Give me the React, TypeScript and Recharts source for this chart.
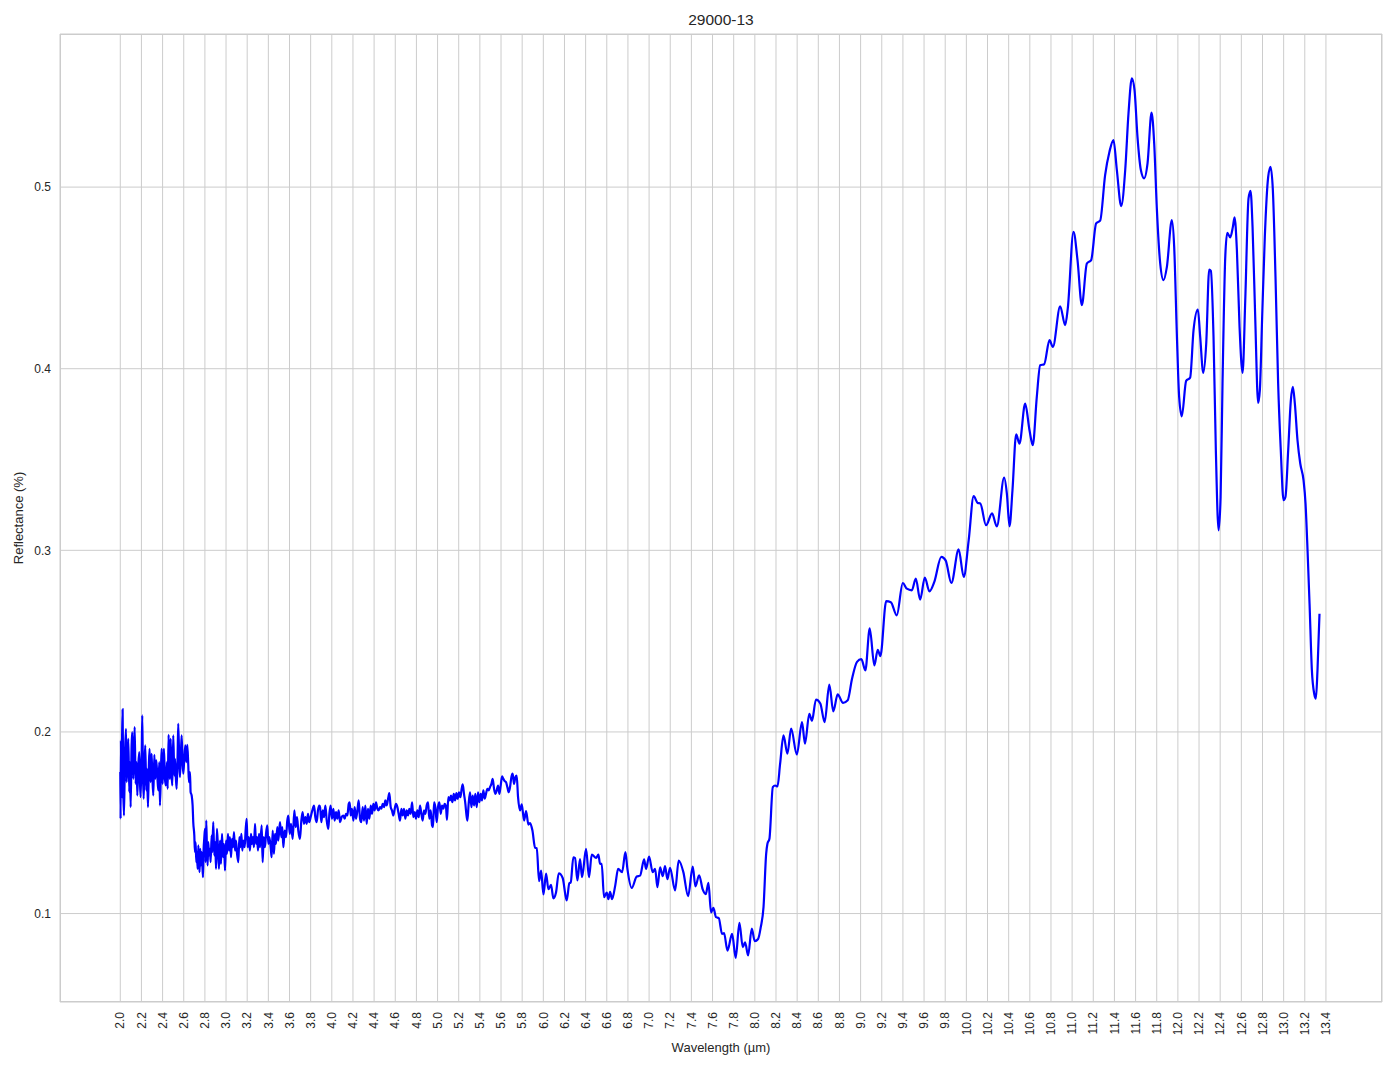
import { LineChart, Line, XAxis, YAxis, CartesianGrid } from 'recharts'

const FONT = '"Liberation Sans", Arial, sans-serif'
const TEXT = '#262626'
const GRID = '#cccccc'

// wavelength (µm), reflectance, region by region
const noisyStart: [number, number][] = [
  [2.000, 0.1779], [2.003, 0.1522], [2.006, 0.1953], [2.009, 0.1632], [2.016, 0.1926], [2.022, 0.2124],
  [2.028, 0.1687], [2.035, 0.1540], [2.044, 0.1871], [2.054, 0.2017], [2.060, 0.1724], [2.066, 0.1815],
  [2.076, 0.1962], [2.085, 0.1669], [2.091, 0.1834], [2.098, 0.1586], [2.107, 0.1926], [2.113, 0.1999],
  [2.123, 0.1742], [2.129, 0.1871], [2.136, 0.2027], [2.145, 0.1714], [2.154, 0.1834], [2.161, 0.1650],
  [2.170, 0.1815], [2.180, 0.1889], [2.186, 0.1724], [2.192, 0.1641], [2.202, 0.1852], [2.208, 0.2091],
  [2.214, 0.1779], [2.221, 0.1632], [2.230, 0.1834], [2.236, 0.1926], [2.246, 0.1678], [2.252, 0.1797],
  [2.262, 0.1586], [2.271, 0.1834], [2.277, 0.1907], [2.287, 0.1724], [2.296, 0.1880], [2.303, 0.1760],
  [2.312, 0.1650], [2.322, 0.1874], [2.331, 0.1742], [2.340, 0.1843], [2.350, 0.1760], [2.359, 0.1678],
  [2.369, 0.1834], [2.375, 0.1595], [2.385, 0.1797], [2.391, 0.1907], [2.400, 0.1714], [2.407, 0.1834],
  [2.413, 0.1907], [2.422, 0.1742], [2.432, 0.1705], [2.441, 0.1834], [2.448, 0.1687], [2.457, 0.1984],
  [2.463, 0.1779], [2.470, 0.1742], [2.476, 0.1962], [2.485, 0.1760], [2.492, 0.1705], [2.501, 0.1981],
  [2.511, 0.1760], [2.517, 0.1852], [2.526, 0.1742], [2.533, 0.1687], [2.542, 0.1871], [2.548, 0.2045],
  [2.558, 0.1834], [2.564, 0.1751], [2.574, 0.1889], [2.580, 0.1981], [2.589, 0.1834], [2.596, 0.1770],
  [2.605, 0.1852], [2.615, 0.1926], [2.624, 0.1834], [2.634, 0.1929], [2.643, 0.1815], [2.649, 0.1724],
  [2.659, 0.1779], [2.665, 0.1669], [2.675, 0.1650], [2.684, 0.1595], [2.690, 0.1503], [2.700, 0.1430],
  [2.706, 0.1338], [2.712, 0.1393], [2.719, 0.1283], [2.725, 0.1338], [2.731, 0.1246], [2.738, 0.1375],
  [2.744, 0.1283], [2.750, 0.1228], [2.756, 0.1356], [2.763, 0.1265], [2.769, 0.1338], [2.775, 0.1283],
  [2.782, 0.1200], [2.788, 0.1356], [2.794, 0.1411], [2.801, 0.1466], [2.807, 0.1283], [2.813, 0.1512],
  [2.820, 0.1338], [2.826, 0.1265], [2.832, 0.1393], [2.839, 0.1320], [2.848, 0.1356], [2.854, 0.1283],
  [2.864, 0.1430], [2.870, 0.1338], [2.879, 0.1503], [2.889, 0.1320], [2.898, 0.1393], [2.905, 0.1246],
  [2.914, 0.1466], [2.924, 0.1356], [2.933, 0.1246],
]

const lowBand: [number, number][] = [
  [2.943, 0.1402], [2.952, 0.1274], [2.962, 0.1439], [2.971, 0.1310], [2.981, 0.1384], [2.990, 0.1237],
  [3.000, 0.1402], [3.009, 0.1329], [3.018, 0.1439], [3.028, 0.1347], [3.037, 0.1421], [3.047, 0.1310],
  [3.056, 0.1411], [3.066, 0.1365], [3.075, 0.1448], [3.085, 0.1347], [3.094, 0.1402], [3.104, 0.1329],
  [3.116, 0.1283], [3.126, 0.1421], [3.135, 0.1365], [3.145, 0.1439], [3.154, 0.1347], [3.163, 0.1402],
  [3.176, 0.1365], [3.185, 0.1457], [3.195, 0.1522], [3.204, 0.1365], [3.214, 0.1421], [3.226, 0.1347],
  [3.236, 0.1439], [3.245, 0.1384], [3.255, 0.1421], [3.264, 0.1365], [3.274, 0.1494], [3.283, 0.1384],
  [3.293, 0.1421], [3.302, 0.1347], [3.312, 0.1439], [3.321, 0.1365], [3.337, 0.1485], [3.346, 0.1283],
  [3.356, 0.1421], [3.368, 0.1365], [3.378, 0.1439], [3.390, 0.1485], [3.400, 0.1384], [3.409, 0.1421],
  [3.422, 0.1365], [3.431, 0.1310], [3.441, 0.1457], [3.453, 0.1329], [3.463, 0.1439], [3.472, 0.1384],
  [3.485, 0.1476], [3.494, 0.1402], [3.510, 0.1503], [3.523, 0.1421], [3.532, 0.1476], [3.542, 0.1365],
  [3.554, 0.1457], [3.567, 0.1421], [3.579, 0.1512], [3.589, 0.1540], [3.602, 0.1439], [3.614, 0.1494],
  [3.630, 0.1411], [3.646, 0.1568], [3.658, 0.1476], [3.671, 0.1531], [3.683, 0.1457], [3.699, 0.1411],
  [3.712, 0.1512], [3.724, 0.1558], [3.737, 0.1494], [3.750, 0.1531], [3.762, 0.1494], [3.775, 0.1549],
  [3.787, 0.1503], [3.800, 0.1531], [3.816, 0.1568], [3.832, 0.1595], [3.844, 0.1531], [3.857, 0.1503],
  [3.869, 0.1568], [3.882, 0.1595],
]

const plateau: [number, number][] = [
  [3.889, 0.1586], [3.901, 0.1503], [3.914, 0.1568], [3.926, 0.1531], [3.939, 0.1595], [3.952, 0.1512],
  [3.967, 0.1466], [3.977, 0.1549], [3.989, 0.1595], [4.002, 0.1522], [4.015, 0.1577], [4.027, 0.1512],
  [4.040, 0.1558], [4.052, 0.1522], [4.065, 0.1568], [4.078, 0.1503], [4.093, 0.1531], [4.109, 0.1540],
  [4.122, 0.1522], [4.134, 0.1549], [4.147, 0.1540], [4.160, 0.1604], [4.169, 0.1613], [4.179, 0.1540],
  [4.191, 0.1577], [4.204, 0.1512], [4.216, 0.1586], [4.229, 0.1522], [4.242, 0.1568], [4.254, 0.1623],
  [4.267, 0.1522], [4.279, 0.1503], [4.292, 0.1586], [4.305, 0.1512], [4.317, 0.1595], [4.330, 0.1494],
  [4.342, 0.1577], [4.355, 0.1522], [4.368, 0.1595], [4.380, 0.1549], [4.393, 0.1604], [4.405, 0.1568],
  [4.418, 0.1613], [4.431, 0.1577], [4.443, 0.1568], [4.456, 0.1586], [4.469, 0.1577], [4.481, 0.1604],
  [4.494, 0.1586], [4.506, 0.1623], [4.519, 0.1595], [4.532, 0.1632], [4.544, 0.1663], [4.557, 0.1586],
  [4.569, 0.1568], [4.582, 0.1540], [4.595, 0.1577], [4.607, 0.1604], [4.620, 0.1586], [4.632, 0.1549],
  [4.645, 0.1512], [4.658, 0.1577], [4.670, 0.1540], [4.683, 0.1577], [4.695, 0.1522], [4.708, 0.1568],
  [4.721, 0.1540], [4.733, 0.1577], [4.746, 0.1549], [4.759, 0.1613], [4.771, 0.1531], [4.784, 0.1558],
  [4.796, 0.1522], [4.809, 0.1568], [4.822, 0.1531], [4.834, 0.1595], [4.847, 0.1549], [4.859, 0.1512],
  [4.872, 0.1568], [4.885, 0.1549], [4.897, 0.1595], [4.910, 0.1613], [4.922, 0.1522], [4.935, 0.1568],
  [4.948, 0.1485], [4.957, 0.1476], [4.967, 0.1613], [4.979, 0.1586], [4.992, 0.1503], [5.004, 0.1586],
  [5.017, 0.1613], [5.030, 0.1549], [5.042, 0.1595], [5.055, 0.1577], [5.067, 0.1604], [5.080, 0.1586],
  [5.089, 0.1516], [5.102, 0.1641], [5.115, 0.1623], [5.127, 0.1650], [5.140, 0.1613], [5.153, 0.1659],
  [5.165, 0.1623], [5.178, 0.1663], [5.190, 0.1632], [5.203, 0.1668], [5.216, 0.1641], [5.228, 0.1687],
  [5.238, 0.1711], [5.250, 0.1659], [5.263, 0.1604], [5.272, 0.1549], [5.282, 0.1512], [5.294, 0.1604],
  [5.307, 0.1668], [5.320, 0.1586], [5.332, 0.1650], [5.345, 0.1595], [5.357, 0.1659], [5.370, 0.1586],
  [5.383, 0.1668], [5.395, 0.1613], [5.408, 0.1659], [5.420, 0.1623], [5.433, 0.1678], [5.446, 0.1632],
  [5.458, 0.1659], [5.471, 0.1687], [5.483, 0.1678], [5.496, 0.1696], [5.509, 0.1714], [5.521, 0.1742],
  [5.534, 0.1687], [5.547, 0.1659], [5.559, 0.1678], [5.572, 0.1705], [5.584, 0.1659], [5.597, 0.1705],
  [5.610, 0.1755], [5.622, 0.1742], [5.635, 0.1729], [5.647, 0.1724], [5.660, 0.1696], [5.673, 0.1668],
  [5.685, 0.1696], [5.698, 0.1751], [5.710, 0.1770], [5.723, 0.1714], [5.736, 0.1751], [5.748, 0.1760],
  [5.761, 0.1641],
]

const dip: [number, number][] = [
  [5.780, 0.1568], [5.796, 0.1601], [5.818, 0.1512], [5.837, 0.1564], [5.859, 0.1490], [5.875, 0.1498],
  [5.897, 0.1457], [5.922, 0.1362], [5.938, 0.1360], [5.960, 0.1178], [5.979, 0.1236], [6.001, 0.1105],
  [6.026, 0.1220], [6.048, 0.1134], [6.073, 0.1158], [6.095, 0.1084], [6.120, 0.1116], [6.146, 0.1222],
  [6.183, 0.1196], [6.221, 0.1072], [6.246, 0.1167], [6.259, 0.1171], [6.284, 0.1310], [6.300, 0.1306],
  [6.322, 0.1182], [6.347, 0.1300], [6.366, 0.1200], [6.404, 0.1356], [6.432, 0.1200], [6.458, 0.1325],
  [6.499, 0.1307], [6.521, 0.1325], [6.536, 0.1274], [6.552, 0.1274], [6.574, 0.1090], [6.600, 0.1116],
  [6.615, 0.1079], [6.631, 0.1120], [6.650, 0.1079], [6.681, 0.1158], [6.707, 0.1246], [6.745, 0.1228],
  [6.776, 0.1338], [6.795, 0.1246], [6.836, 0.1141], [6.883, 0.1204], [6.915, 0.1209], [6.953, 0.1298],
  [6.971, 0.1246], [7.000, 0.1314], [7.034, 0.1228], [7.057, 0.1246], [7.079, 0.1145], [7.104, 0.1255],
  [7.129, 0.1206], [7.151, 0.1261], [7.173, 0.1189], [7.198, 0.1252], [7.246, 0.1127], [7.280, 0.1292],
  [7.324, 0.1228], [7.369, 0.1096], [7.413, 0.1259], [7.438, 0.1149], [7.473, 0.1211], [7.507, 0.1133],
  [7.536, 0.1107], [7.561, 0.1169], [7.586, 0.1007], [7.608, 0.1031], [7.633, 0.0980], [7.659, 0.0975],
  [7.690, 0.0888], [7.709, 0.0892], [7.741, 0.0796], [7.785, 0.0888], [7.819, 0.0756], [7.854, 0.0949],
  [7.886, 0.0815], [7.908, 0.0842], [7.936, 0.0769], [7.971, 0.0917], [7.999, 0.0848], [8.031, 0.0860],
  [8.056, 0.0925],
]

const rise: [number, number][] = [
  [8.082, 0.1035], [8.107, 0.1329], [8.119, 0.1384], [8.138, 0.1412], [8.170, 0.1696], [8.192, 0.1705],
  [8.214, 0.1700], [8.239, 0.1825], [8.271, 0.1981], [8.308, 0.1880], [8.343, 0.2018], [8.397, 0.1876],
  [8.446, 0.2054], [8.474, 0.1935], [8.515, 0.2100], [8.540, 0.2061], [8.578, 0.2178], [8.619, 0.2157],
  [8.660, 0.2054], [8.704, 0.2260], [8.742, 0.2113], [8.783, 0.2207], [8.834, 0.2160], [8.878, 0.2174],
  [8.919, 0.2293], [8.966, 0.2386], [9.007, 0.2401], [9.045, 0.2339], [9.086, 0.2570], [9.130, 0.2366],
  [9.162, 0.2452], [9.187, 0.2418], [9.242, 0.2720], [9.286, 0.2714], [9.342, 0.2642], [9.399, 0.2820],
  [9.437, 0.2789], [9.484, 0.2780], [9.522, 0.2844], [9.563, 0.2729], [9.607, 0.2850], [9.651, 0.2774],
  [9.697, 0.2826], [9.763, 0.2964], [9.804, 0.2945], [9.858, 0.2820], [9.927, 0.3005], [9.975, 0.2853],
  [10.022, 0.3056], [10.069, 0.3298], [10.107, 0.3261], [10.132, 0.3258], [10.186, 0.3138], [10.243, 0.3203],
]

const peaks: [number, number][] = [
  [10.288, 0.3132], [10.357, 0.3400], [10.383, 0.3312], [10.408, 0.3132], [10.436, 0.3331], [10.471, 0.3639],
  [10.502, 0.3588], [10.556, 0.3808], [10.597, 0.3661], [10.628, 0.3579], [10.666, 0.3845], [10.698, 0.4019],
  [10.736, 0.4025], [10.786, 0.4157], [10.818, 0.4120], [10.887, 0.4344], [10.934, 0.4240], [10.959, 0.4332],
  [11.013, 0.4754], [11.051, 0.4598], [11.092, 0.4350], [11.139, 0.4579], [11.180, 0.4598], [11.227, 0.4800],
  [11.265, 0.4815], [11.312, 0.5066], [11.353, 0.5195], [11.391, 0.5259], [11.423, 0.5094], [11.464, 0.4895],
  [11.502, 0.5094], [11.533, 0.5406], [11.565, 0.5599], [11.590, 0.5534], [11.618, 0.5277], [11.650, 0.5094],
  [11.681, 0.5048], [11.713, 0.5130], [11.751, 0.5410], [11.776, 0.5241], [11.801, 0.4883], [11.833, 0.4579],
  [11.864, 0.4488], [11.896, 0.4561], [11.943, 0.4818], [11.965, 0.4671], [11.990, 0.4194], [12.012, 0.3845],
  [12.037, 0.3738], [12.078, 0.3933], [12.116, 0.3951], [12.148, 0.4212],
]

const tail: [number, number][] = [
  [12.189, 0.4326], [12.211, 0.4175], [12.240, 0.3977], [12.268, 0.4139], [12.296, 0.4546], [12.312, 0.4539],
  [12.337, 0.4175], [12.359, 0.3551], [12.385, 0.3110], [12.404, 0.3294], [12.422, 0.3918], [12.448, 0.4616],
  [12.467, 0.4748], [12.495, 0.4723], [12.520, 0.4781], [12.536, 0.4833], [12.558, 0.4653], [12.583, 0.4231],
  [12.612, 0.3977], [12.637, 0.4377], [12.668, 0.4938], [12.687, 0.4980], [12.706, 0.4781], [12.731, 0.4286],
  [12.759, 0.3812], [12.775, 0.3882], [12.797, 0.4286], [12.822, 0.4726], [12.854, 0.5057], [12.876, 0.5112],
  [12.898, 0.4984], [12.923, 0.4506], [12.948, 0.3918], [12.973, 0.3551], [12.999, 0.3276], [13.017, 0.3294],
  [13.043, 0.3551], [13.068, 0.3826], [13.087, 0.3900], [13.106, 0.3808], [13.131, 0.3606], [13.157, 0.3478],
  [13.188, 0.3386], [13.207, 0.3257], [13.226, 0.3000], [13.245, 0.2706], [13.267, 0.2339], [13.289, 0.2210],
  [13.305, 0.2183], [13.320, 0.2339], [13.339, 0.2651],
]

const xTicks = [
  2.0, 2.2, 2.4, 2.6, 2.8, 3.0, 3.2, 3.4, 3.6, 3.8, 4.0, 4.2, 4.4, 4.6, 4.8, 5.0, 5.2, 5.4, 5.6, 5.8,
  6.0, 6.2, 6.4, 6.6, 6.8, 7.0, 7.2, 7.4, 7.6, 7.8, 8.0, 8.2, 8.4, 8.6, 8.8, 9.0, 9.2, 9.4, 9.6, 9.8,
  10.0, 10.2, 10.4, 10.6, 10.8, 11.0, 11.2, 11.4, 11.6, 11.8, 12.0, 12.2, 12.4, 12.6, 12.8, 13.0, 13.2, 13.4,
]
const yTicks = [0.1, 0.2, 0.3, 0.4, 0.5]

const spectrum = [...noisyStart, ...lowBand, ...plateau, ...dip, ...rise, ...peaks, ...tail]
  .map(([w, r]) => ({ w, r }))

function WavelengthTick({ x, y, payload }: { x?: number; y?: number; payload?: { value: number } }) {
  if (x == null || y == null || !payload) return null
  return (
    <text
      x={x}
      y={y}
      transform={`rotate(-90, ${x}, ${y})`}
      textAnchor="end"
      dy="0.35em"
      fontSize={12}
      fontFamily={FONT}
      fill={TEXT}
    >
      {payload.value.toFixed(1)}
    </text>
  )
}

export default function App() {
  return (
    <div style={{ position: 'absolute', left: 0, top: 0, width: 1394, height: 1069, background: '#fff', fontFamily: FONT, color: TEXT }}>
      <LineChart width={1394} height={1069} data={spectrum} margin={{ top: 34, right: 12, left: 0, bottom: 0 }}>
        <CartesianGrid stroke={GRID} strokeWidth={1} />
        <XAxis
          dataKey="w"
          type="number"
          domain={[1.43, 13.93]}
          allowDataOverflow
          ticks={xTicks}
          interval={0}
          tick={<WavelengthTick />}
          tickLine={false}
          axisLine={false}
          tickSize={0}
          tickMargin={10}
          height={67}
        />
        <YAxis
          type="number"
          domain={[0.0513, 0.5843]}
          allowDataOverflow
          ticks={yTicks}
          tickFormatter={(v: number) => v.toFixed(1)}
          tick={{ fontSize: 12, fill: TEXT, fontFamily: FONT }}
          tickLine={false}
          axisLine={false}
          tickSize={0}
          tickMargin={9}
          width={60}
        />
        <Line
          type="monotone"
          dataKey="r"
          stroke="#0000ff"
          strokeWidth={2.2}
          dot={false}
          activeDot={false}
          isAnimationActive={false}
        />
      </LineChart>
      <div style={{ position: 'absolute', left: 60, top: 34, width: 1322, height: 968, boxSizing: 'border-box', border: `1px solid ${GRID}`, pointerEvents: 'none' }} />
      <div style={{ position: 'absolute', left: 60, width: 1322, top: 12, textAlign: 'center', fontSize: 15.5, lineHeight: '16px' }}>
        29000-13
      </div>
      <div style={{ position: 'absolute', left: 60, width: 1322, top: 1040, textAlign: 'center', fontSize: 13, lineHeight: '16px' }}>
        Wavelength (µm)
      </div>
      <div style={{ position: 'absolute', left: 19, top: 518, transform: 'translate(-50%, -50%) rotate(-90deg)', whiteSpace: 'nowrap', fontSize: 13, lineHeight: '16px' }}>
        Reflectance (%)
      </div>
    </div>
  )
}
